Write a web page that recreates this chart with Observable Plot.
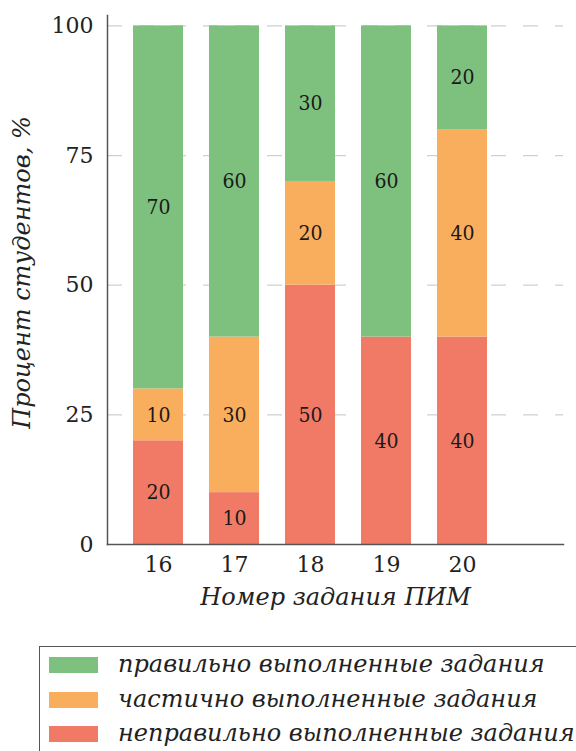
<!DOCTYPE html>
<html>
<head>
<meta charset="utf-8">
<script src="https://cdn.jsdelivr.net/npm/d3@7"></script>
<script src="https://cdn.jsdelivr.net/npm/@observablehq/plot@0.6"></script>
<style>
  html, body { margin: 0; padding: 0; background: #fff; overflow: hidden; }
  #wrap { position: relative; width: 576px; height: 751px; overflow: hidden; }
  #legend {
    position: absolute; left: 39px; top: 646px; width: 620px; height: 140px;
    border: 1.5px solid #555; box-sizing: border-box;
    font-family: "DejaVu Serif", serif; font-style: italic; font-size: 24px; color: #222;
  }
  .item { position: absolute; left: 9px; height: 16px; }
  .sw { position: absolute; left: 0; top: 0; width: 49px; height: 16px; }
  .lbl { position: absolute; left: 69px; top: -7px; white-space: nowrap; line-height: 28px; }
</style>
</head>
<body>
<div id="wrap"></div>
<script>
const tasks = ["16", "17", "18", "19", "20"];
const categories = ["неправильно выполненные задания", "частично выполненные задания", "правильно выполненные задания"];
const colors = ["#f17a67", "#f9ae5e", "#7ec17e"];
const wrong = [20, 10, 50, 40, 40];
const partial = [10, 30, 20, 0, 40];
const correct = [70, 60, 30, 60, 20];
const yTicks = [0, 25, 50, 75, 100];
const legendOrder = ["правильно выполненные задания", "частично выполненные задания", "неправильно выполненные задания"];
const xTitle = "Номер задания ПИМ";
const yTitle = "Процент студентов, %";

const series = [wrong, partial, correct];
const data = [];
tasks.forEach((t, i) => {
  categories.forEach((c, j) => data.push({task: t, category: c, value: series[j][i]}));
});

const chart = Plot.plot({
  width: 576,
  height: 625,
  marginTop: 15,
  marginLeft: 107,
  marginRight: 13,
  marginBottom: 81,
  style: {fontFamily: "DejaVu Serif, serif", fontSize: "22px", color: "#222", background: "#fff"},
  x: {domain: tasks, paddingInner: 0.342, paddingOuter: 0.671, align: 0.255, axis: null},
  y: {domain: [0, 102], axis: null},
  color: {domain: categories, range: colors},
  marks: [
    Plot.ruleY(yTicks.filter(d => d > 0), {stroke: "#cfcfcf", strokeWidth: 1.3, strokeDasharray: "15,17"}),
    Plot.barY(data, Plot.stackY({x: "task", y: "value", fill: "category", order: categories})),
    Plot.text(data, Plot.stackY({filter: d => d.value > 0, x: "task", y: "value", z: "category", order: categories, text: d => String(d.value), fill: "#1a1a1a", fontFamily: "DejaVu Serif Condensed, DejaVu Serif, serif", fontStretch: "condensed", fontSize: 21})),
    Plot.axisY(yTicks, {tickSize: 0, tickPadding: 14, fill: "#222", fontSize: 22, label: null}),
    Plot.axisX({tickSize: 0, tickPadding: 11.5, fill: "#222", fontSize: 22, label: null}),
    Plot.frame({anchor: "left", stroke: "#555", strokeWidth: 1.5}),
    Plot.frame({anchor: "bottom", stroke: "#555", strokeWidth: 1.5}),
    Plot.text([xTitle], {frameAnchor: "bottom", textAnchor: "middle", lineAnchor: "middle", dy: 53, text: d => d, fontStyle: "italic", fontSize: 24, fill: "#222"}),
    Plot.text([yTitle], {frameAnchor: "left", textAnchor: "middle", lineAnchor: "middle", rotate: -90, dx: -85, dy: -7.5, text: d => d, fontStyle: "italic", fontSize: 24, fill: "#222"})
  ]
});
document.getElementById("wrap").appendChild(chart);

const legend = document.createElement("div");
legend.id = "legend";
legendOrder.forEach((c, i) => {
  const item = document.createElement("div");
  item.className = "item";
  item.style.top = (10 + i * 34.5) + "px";
  const sw = document.createElement("div");
  sw.className = "sw";
  sw.style.background = colors[categories.indexOf(c)];
  const lbl = document.createElement("span");
  lbl.className = "lbl";
  lbl.textContent = c;
  item.appendChild(sw);
  item.appendChild(lbl);
  legend.appendChild(item);
});
document.getElementById("wrap").appendChild(legend);
</script>
</body>
</html>
